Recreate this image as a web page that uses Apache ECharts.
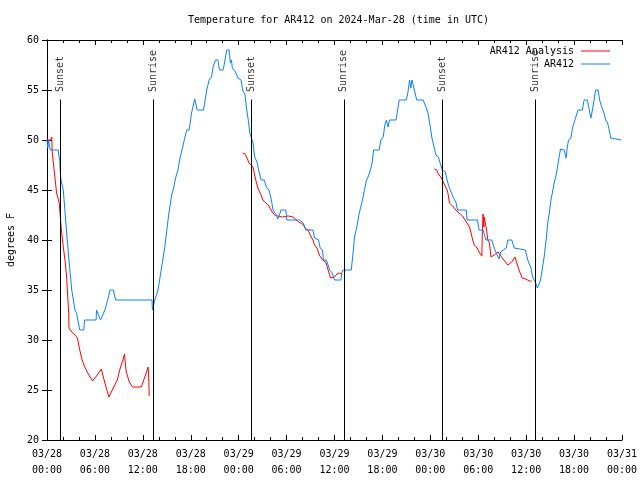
<!DOCTYPE html>
<html>
<head>
<meta charset="utf-8">
<script src="https://cdn.jsdelivr.net/npm/echarts@6/dist/echarts.min.js"></script>
<style>html,body{margin:0;padding:0;background:#fff}#c{width:640px;height:480px}</style>
</head>
<body>
<div id="c"></div>
<script>
// Hours since 2024-03-28 00:00 UTC
var titleText = 'Temperature for AR412 on 2024-Mar-28 (time in UTC)';
var yTicks = [20, 25, 30, 35, 40, 45, 50, 55, 60];

// Observed AR412 (blue)
var obsHours = [0,0.1,0.2,0.35,0.4,1.4,1.5,1.6,1.65,1.75,2.04,2.46,2.75,3.1,3.5,3.7,4.1,4.6,4.7,6.15,6.2,6.7,7.25,7.6,7.9,8.3,8.6,13.15,13.2,13.5,13.9,14.3,14.75,15.2,15.6,15.8,16.1,16.4,16.6,16.96,17.25,17.5,17.8,18.1,18.5,18.8,19.6,20.0,20.3,20.6,20.8,21.1,21.4,21.6,22.05,22.25,22.5,22.8,22.96,23.1,23.2,23.6,23.9,24.3,24.5,24.8,24.96,25.2,25.4,25.5,25.8,26.0,26.3,26.5,26.8,27.2,27.5,27.8,28.1,28.3,28.5,28.7,28.9,29.1,29.3,29.9,30.04,31.6,32.1,32.4,33.3,33.5,34.0,34.2,34.5,34.6,34.96,35.2,35.4,35.7,36.0,36.8,36.9,37.1,38.1,38.4,38.5,38.8,39.1,39.5,39.75,40.0,40.2,40.5,40.7,40.9,41.6,41.8,42.1,42.3,42.5,42.7,42.9,43.7,43.9,44.1,45.0,45.2,45.4,45.55,45.7,46.0,46.3,47.1,47.5,47.7,48.0,48.2,48.5,48.7,49.0,49.3,49.5,49.9,50.0,50.2,50.4,50.6,50.9,51.2,51.4,52.5,52.6,53.9,54.1,54.6,54.75,54.96,55.7,55.8,56.0,56.2,56.6,56.8,57.0,57.5,57.7,58.2,58.5,58.7,59.9,60.0,60.2,60.4,60.6,60.8,61.0,61.2,61.4,61.6,61.8,62.0,62.25,62.5,62.7,62.9,63.1,63.3,63.5,63.7,63.9,64.1,64.3,64.75,65.0,65.1,65.3,65.6,65.8,66.1,66.3,66.5,67.04,67.25,67.66,67.9,68.1,68.3,68.5,68.7,69.0,69.2,69.5,69.75,69.96,70.2,70.4,70.6,70.7,71.9];
var obsTemps = [50,49.2,50,50,49,49,48.3,48,47,46,45,40.7,38,35,33,32.7,31,31,32,32,33,32,33,34,35,35,34,34,33,34,35,37,39.3,42.3,44.5,45,46.2,47,48,49.2,50.2,51,51,52.7,54.1,53,53,55,56,56.3,57.3,58,58,57,57,57.8,59,59,57.7,58,57.2,56.8,56.2,56,55,54.5,53.3,52,50.7,50.5,49.7,48.3,47.8,47,46,46,45.2,45,44,43,43,42.5,42.1,42.5,43,43,42,42,41.7,41,41,40.2,40,39.2,39,38,38,37.5,37,36.7,36,36,36.7,37,37,39.3,40.3,41.3,42.7,44,45,46,46.3,47,47.7,49,49,50,50.3,51.5,52,51.3,52,52,53,54,54,54.8,56,55.2,56,55,54,54,53.2,52.7,51.3,50.2,49.2,48.5,48.3,47.5,47,46.8,46.3,45.7,45.2,45,44.2,43.8,43,43,42,42,41,41,40.6,40,40,39.7,39.2,38.8,38.1,38.8,39,39.2,40,40,39.2,39,39,38.8,38,38,37.2,36.3,36,35.7,35.2,35,36,37,38.3,40,41.7,42.7,44,44.8,45.7,46.3,47.2,48.2,49.1,49,48.2,49,50,50.2,51.2,52,52.5,53,53,54,54,53,52.2,53,54,55,55,54,53.2,52.7,52,51.7,51,50.2,50,50];

// Analysis (red), three separate segments
var ana1Hours = [0,0.45,0.6,0.65,0.85,1.0,1.2,1.54,1.6,1.8,2.04,2.25,2.46,2.67,2.72,2.75,3.1,3.5,3.8,4.1,4.4,4.67,5.04,5.4,5.7,6.2,6.8,7.25,7.75,8.3,8.8,9.1,9.5,9.7,9.9,10.3,10.7,11.8,12.25,12.67,12.75,12.8];
var ana1Temps = [50,50,50.3,48.8,47.3,46.2,44.7,43.7,43,41,39.3,38,36.3,33.3,32.7,31.2,30.8,30.5,30.2,29,28,27.4,26.8,26.3,25.9,26.4,27.1,25.7,24.3,25.2,26,27,28,28.6,26.9,25.8,25.3,25.3,26.3,27.3,25.9,24.4];
var ana2Hours = [24.5,24.8,25.04,25.3,25.5,25.8,26.0,26.2,26.4,26.5,26.8,27.04,27.4,27.7,27.9,28.2,28.5,28.9,29.5,30.2,30.8,31.1,31.5,31.8,32.1,32.4,32.7,32.96,33.3,33.5,33.8,34.1,34.5,34.9,35.2,35.5,35.7,36.0,36.3,36.6,36.96];
var ana2Temps = [48.7,48.6,48.2,47.7,47.5,47.3,46.5,45.8,45.2,45,44.5,44,43.7,43.5,43.3,42.8,42.5,42.4,42.3,42.4,42.3,42.1,41.8,41.7,41.5,41.1,41,40.5,40,39.5,39.2,38.5,38,37.8,37,36.2,36.1,36.3,36.6,36.7,36.6];
var ana3Hours = [48.5,48.8,49.0,49.3,49.5,49.8,50.1,50.2,50.4,50.8,51.2,51.6,52.04,52.5,52.9,53.1,53.3,53.5,53.8,54.1,54.45,54.5,54.6,54.7,54.75,55.04,55.2,55.4,55.6,56.0,56.5,57.0,57.7,58.2,58.6,58.9,59.2,59.5,59.96,60.4,60.7];
var ana3Temps = [47.1,47,46.6,46.3,46,45.5,45,44.7,43.7,43.4,43,42.7,42.4,41.8,41.3,40.7,40,39.5,39.3,38.8,38.4,40.5,42.6,41.3,42.3,41,40,39.7,38.3,38.5,38.8,38.2,37.5,37.8,38.3,37.5,36.8,36.2,36.1,35.9,35.9];

// Sun events
var sunHours = [1.66, 13.29, 25.58, 37.17, 49.54, 61.16];
var sunNames = ['Sunset', 'Sunrise', 'Sunset', 'Sunrise', 'Sunset', 'Sunrise'];
var sunLineTop = 54.05;
var sunLabelBase = 54.8;

function zip(a, b) { return a.map(function (v, i) { return [v, b[i]]; }); }

var FONT = 'DejaVu Sans Mono';
var RED = '#ff0000';
var BLUE = '#0a80ff';

function fmtX(v) {
  var d = 28 + Math.floor(v / 24);
  var h = v % 24;
  return '03/' + d + '\n' + (h < 10 ? '0' : '') + h + ':00';
}

var redLine = { type: 'line', name: 'AR412 Analysis', showSymbol: false, symbol: 'none',
  lineStyle: { color: RED, width: 1 }, itemStyle: { color: RED }, animation: false, z: 2 };
var series = [];
[[ana1Hours, ana1Temps], [ana2Hours, ana2Temps], [ana3Hours, ana3Temps]].forEach(function (s) {
  series.push(Object.assign({}, redLine, { data: zip(s[0], s[1]) }));
});
series.push({ type: 'line', name: 'AR412', showSymbol: false, symbol: 'none',
  lineStyle: { color: BLUE, width: 1 }, itemStyle: { color: BLUE }, animation: false, z: 3,
  data: zip(obsHours, obsTemps) });
series.push({ type: 'scatter', name: 'sun', symbolSize: 0, animation: false, z: 5,
  data: sunHours.map(function (h, i) { return { value: [h, sunLabelBase], name: sunNames[i] }; }),
  label: { show: true, formatter: '{b}', position: [0, 0], rotate: 90, align: 'left', verticalAlign: 'middle',
    fontFamily: FONT, fontSize: 10, color: '#000' },
  markLine: { silent: true, symbol: 'none', animation: false,
    lineStyle: { color: '#000', width: 1, type: 'solid' }, label: { show: false },
    data: sunHours.map(function (h) { return [{ coord: [h, 20] }, { coord: [h, sunLineTop] }]; }) }
});

var axisCommonX = { type: 'value', min: 0, max: 72, interval: 6,
  axisLine: { lineStyle: { color: '#000', width: 1 } },
  axisTick: { inside: true, length: 5, lineStyle: { color: '#000' } },
  minorTick: { show: true, splitNumber: 3, length: 3, lineStyle: { color: '#000' } },
  splitLine: { show: false } };
var axisCommonY = { type: 'value', min: 20, max: 60, interval: 5,
  axisLine: { show: true, lineStyle: { color: '#000', width: 1 } },
  axisTick: { show: true, inside: true, length: 5, lineStyle: { color: '#000' } },
  splitLine: { show: false } };

var chart = echarts.init(document.getElementById('c'), null, { renderer: 'canvas' });
chart.setOption({
  animation: false,
  backgroundColor: '#fff',
  title: { text: titleText, left: 183, top: 10,
    textStyle: { fontFamily: FONT, fontSize: 10, fontWeight: 'normal', color: '#000' } },
  legend: { data: [{ name: 'AR412 Analysis' }, { name: 'AR412' }], orient: 'vertical', right: 30, top: 46,
    padding: 0, itemGap: 3, itemWidth: 29, itemHeight: 1, icon: 'rect', align: 'right',
    textStyle: { fontFamily: FONT, fontSize: 10, color: '#000', padding: [0, 2, 0, 0] } },
  grid: { left: 47, right: 18, top: 40, bottom: 40, containLabel: false, outerBoundsMode: 'none' },
  xAxis: [
    Object.assign({}, axisCommonX, { position: 'bottom',
      axisLabel: { formatter: fmtX, fontFamily: FONT, fontSize: 10, color: '#000', margin: 6, lineHeight: 16 } }),
    Object.assign({}, axisCommonX, { position: 'top', axisLabel: { show: false } })
  ],
  yAxis: [
    Object.assign({}, axisCommonY, { position: 'left', name: 'degrees F', nameLocation: 'middle', nameGap: 31,
      nameTextStyle: { fontFamily: FONT, fontSize: 10, color: '#000' },
      axisLabel: { fontFamily: FONT, fontSize: 10, color: '#000', margin: 8 } }),
    Object.assign({}, axisCommonY, { position: 'right', axisLabel: { show: false } })
  ],
  series: series
});
</script>
</body>
</html>
